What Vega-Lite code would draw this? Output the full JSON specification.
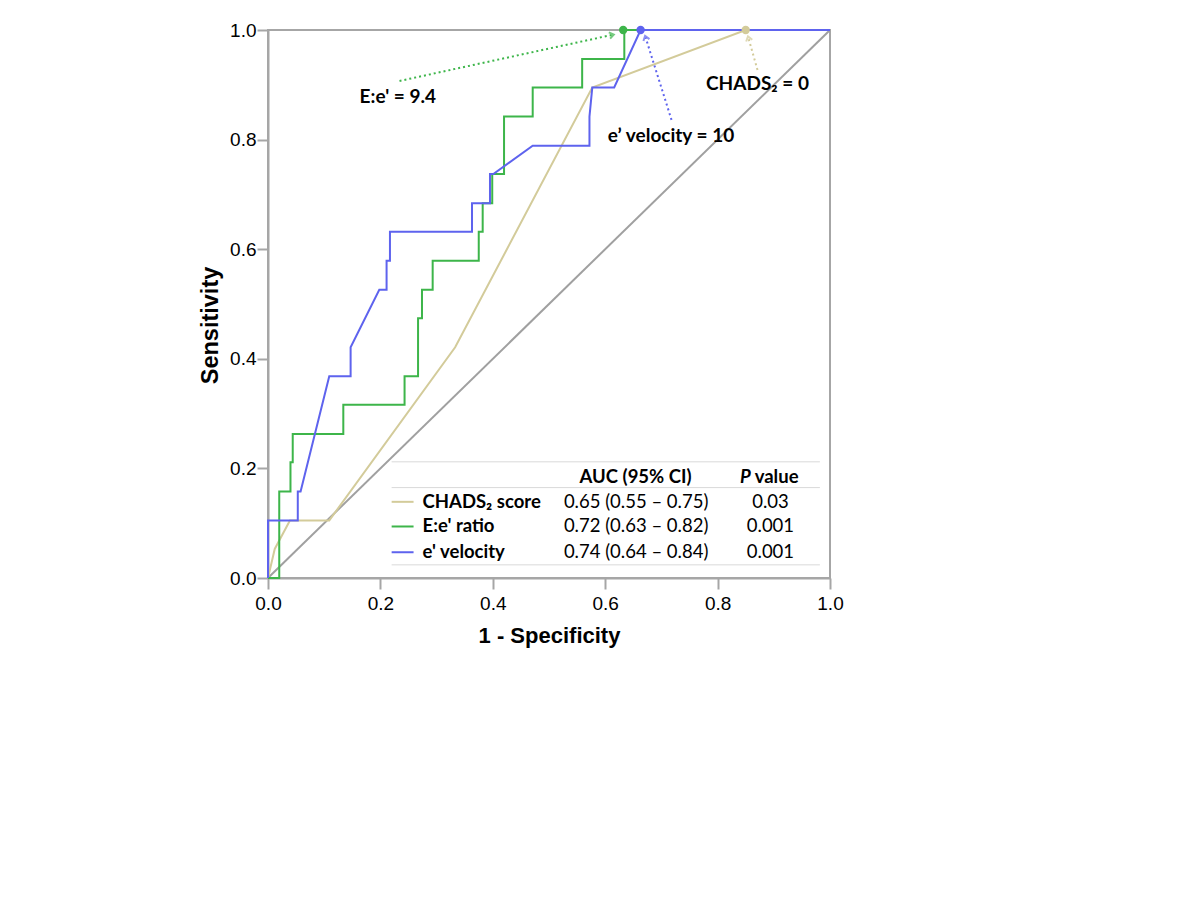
{
  "$schema": "https://vega.github.io/schema/vega-lite/v6.json",
  "width": 562,
  "height": 548,
  "autosize": "none",
  "padding": {"left": 268, "top": 30, "right": 370, "bottom": 322},
  "background": "white",
  "config": {
    "view": {"stroke": "#a6a6a6", "strokeWidth": 2},
    "axis": {
      "grid": false,
      "domainColor": "#a6a6a6",
      "domainWidth": 2,
      "tickColor": "#a6a6a6",
      "tickWidth": 2,
      "tickSize": 11,
      "labelFlush": false,
      "labelFont": "Liberation Sans",
      "labelFontSize": 19,
      "labelColor": "#000000",
      "titleFont": "Liberation Sans",
      "titleFontWeight": "bold",
      "titleColor": "#000000"
    }
  },
  "datasets": {
    "curves": [
      {"series": "CHADS", "order": 1, "fpr": 0, "tpr": 0},
      {"series": "CHADS", "order": 2, "fpr": 0.012, "tpr": 0.053},
      {"series": "CHADS", "order": 3, "fpr": 0.039, "tpr": 0.105},
      {"series": "CHADS", "order": 4, "fpr": 0.109, "tpr": 0.105},
      {"series": "CHADS", "order": 5, "fpr": 0.333, "tpr": 0.421},
      {"series": "CHADS", "order": 6, "fpr": 0.577, "tpr": 0.895},
      {"series": "CHADS", "order": 7, "fpr": 0.85, "tpr": 1},
      {"series": "CHADS", "order": 8, "fpr": 1, "tpr": 1},
      {"series": "Ee", "order": 1, "fpr": 0, "tpr": 0},
      {"series": "Ee", "order": 2, "fpr": 0.02, "tpr": 0},
      {"series": "Ee", "order": 3, "fpr": 0.02, "tpr": 0.158},
      {"series": "Ee", "order": 4, "fpr": 0.04, "tpr": 0.158},
      {"series": "Ee", "order": 5, "fpr": 0.04, "tpr": 0.211},
      {"series": "Ee", "order": 6, "fpr": 0.044, "tpr": 0.211},
      {"series": "Ee", "order": 7, "fpr": 0.044, "tpr": 0.263},
      {"series": "Ee", "order": 8, "fpr": 0.134, "tpr": 0.263},
      {"series": "Ee", "order": 9, "fpr": 0.134, "tpr": 0.316},
      {"series": "Ee", "order": 10, "fpr": 0.243, "tpr": 0.316},
      {"series": "Ee", "order": 11, "fpr": 0.243, "tpr": 0.368},
      {"series": "Ee", "order": 12, "fpr": 0.267, "tpr": 0.368},
      {"series": "Ee", "order": 13, "fpr": 0.267, "tpr": 0.474},
      {"series": "Ee", "order": 14, "fpr": 0.274, "tpr": 0.474},
      {"series": "Ee", "order": 15, "fpr": 0.274, "tpr": 0.526},
      {"series": "Ee", "order": 16, "fpr": 0.293, "tpr": 0.526},
      {"series": "Ee", "order": 17, "fpr": 0.293, "tpr": 0.579},
      {"series": "Ee", "order": 18, "fpr": 0.375, "tpr": 0.579},
      {"series": "Ee", "order": 19, "fpr": 0.375, "tpr": 0.632},
      {"series": "Ee", "order": 20, "fpr": 0.382, "tpr": 0.632},
      {"series": "Ee", "order": 21, "fpr": 0.382, "tpr": 0.684},
      {"series": "Ee", "order": 22, "fpr": 0.399, "tpr": 0.684},
      {"series": "Ee", "order": 23, "fpr": 0.399, "tpr": 0.737},
      {"series": "Ee", "order": 24, "fpr": 0.42, "tpr": 0.737},
      {"series": "Ee", "order": 25, "fpr": 0.42, "tpr": 0.842},
      {"series": "Ee", "order": 26, "fpr": 0.471, "tpr": 0.842},
      {"series": "Ee", "order": 27, "fpr": 0.471, "tpr": 0.895},
      {"series": "Ee", "order": 28, "fpr": 0.559, "tpr": 0.895},
      {"series": "Ee", "order": 29, "fpr": 0.559, "tpr": 0.947},
      {"series": "Ee", "order": 30, "fpr": 0.634, "tpr": 0.947},
      {"series": "Ee", "order": 31, "fpr": 0.634, "tpr": 1},
      {"series": "Ee", "order": 32, "fpr": 1, "tpr": 1},
      {"series": "ev", "order": 1, "fpr": 0, "tpr": 0},
      {"series": "ev", "order": 2, "fpr": 0, "tpr": 0.105},
      {"series": "ev", "order": 3, "fpr": 0.053, "tpr": 0.105},
      {"series": "ev", "order": 4, "fpr": 0.053, "tpr": 0.158},
      {"series": "ev", "order": 5, "fpr": 0.058, "tpr": 0.158},
      {"series": "ev", "order": 6, "fpr": 0.109, "tpr": 0.368},
      {"series": "ev", "order": 7, "fpr": 0.147, "tpr": 0.368},
      {"series": "ev", "order": 8, "fpr": 0.147, "tpr": 0.421},
      {"series": "ev", "order": 9, "fpr": 0.198, "tpr": 0.526},
      {"series": "ev", "order": 10, "fpr": 0.211, "tpr": 0.526},
      {"series": "ev", "order": 11, "fpr": 0.211, "tpr": 0.579},
      {"series": "ev", "order": 12, "fpr": 0.217, "tpr": 0.579},
      {"series": "ev", "order": 13, "fpr": 0.217, "tpr": 0.632},
      {"series": "ev", "order": 14, "fpr": 0.363, "tpr": 0.632},
      {"series": "ev", "order": 15, "fpr": 0.363, "tpr": 0.684},
      {"series": "ev", "order": 16, "fpr": 0.395, "tpr": 0.684},
      {"series": "ev", "order": 17, "fpr": 0.395, "tpr": 0.737},
      {"series": "ev", "order": 18, "fpr": 0.401, "tpr": 0.737},
      {"series": "ev", "order": 19, "fpr": 0.471, "tpr": 0.789},
      {"series": "ev", "order": 20, "fpr": 0.572, "tpr": 0.789},
      {"series": "ev", "order": 21, "fpr": 0.572, "tpr": 0.842},
      {"series": "ev", "order": 22, "fpr": 0.577, "tpr": 0.895},
      {"series": "ev", "order": 23, "fpr": 0.616, "tpr": 0.895},
      {"series": "ev", "order": 24, "fpr": 0.663, "tpr": 1},
      {"series": "ev", "order": 25, "fpr": 1, "tpr": 1}
    ],
    "cutoffs": [
      {"series": "CHADS", "fpr": 0.85, "tpr": 1, "label": "CHADS₂ = 0", "lx": 0.871, "ly": 0.901, "ax": 0.871, "ay": 0.927, "tx": 0.855, "ty": 0.985},
      {"series": "Ee", "fpr": 0.632, "tpr": 1, "label": "E:e' = 9.4", "lx": 0.231, "ly": 0.877, "ax": 0.234, "ay": 0.907, "tx": 0.612, "ty": 0.991},
      {"series": "ev", "fpr": 0.663, "tpr": 1, "label": "e’ velocity = 10", "lx": 0.717, "ly": 0.807, "ax": 0.718, "ay": 0.836, "tx": 0.672, "ty": 0.986}
    ],
    "table": [
      {"series": "CHADS", "name": "CHADS₂ score", "auc": "0.65 (0.55 – 0.75)", "p": "0.03", "row": 0.139},
      {"series": "Ee", "name": "E:e' ratio", "auc": "0.72 (0.63 – 0.82)", "p": "0.001", "row": 0.094},
      {"series": "ev", "name": "e' velocity", "auc": "0.74 (0.64 – 0.84)", "p": "0.001", "row": 0.047}
    ],
    "tablelines": [
      {"y": 0.212, "x1": 0.22, "x2": 0.982},
      {"y": 0.165, "x1": 0.22, "x2": 0.982},
      {"y": 0.024, "x1": 0.22, "x2": 0.982}
    ],
    "header": [
      {"t": "AUC (95% CI)", "x": 0.654, "y": 0.185}
    ],
    "diag": [
      {"fpr": 0, "tpr": 0},
      {"fpr": 1, "tpr": 1}
    ]
  },
  "layer": [
    {
      "data": {"name": "diag"},
      "mark": {"type": "line", "color": "#a0a0a0", "strokeWidth": 2, "clip": true},
      "encoding": {
        "x": {"field": "fpr", "type": "quantitative", "scale": {"domain": [0, 1], "nice": false}, "axis": {"title": "1 - Specificity", "titleFontSize": 22, "values": [0, 0.2, 0.4, 0.6, 0.8, 1], "format": ".1f", "labelPadding": 5, "titlePadding": 12}},
        "y": {"field": "tpr", "type": "quantitative", "scale": {"domain": [0, 1], "nice": false}, "axis": {"title": "Sensitivity", "titleFontSize": 23.5, "titleY": 295, "values": [0, 0.2, 0.4, 0.6, 0.8, 1], "format": ".1f", "labelPadding": 1, "titlePadding": 7}}
      }
    },
    {
      "data": {"name": "tablelines"},
      "mark": {"type": "rule", "color": "#d9d9d9", "strokeWidth": 1},
      "encoding": {
        "x": {"field": "x1", "type": "quantitative"},
        "x2": {"field": "x2"},
        "y": {"field": "y", "type": "quantitative"}
      }
    },
    {
      "data": {"name": "curves"},
      "mark": {"type": "line", "strokeWidth": 2, "clip": false},
      "encoding": {
        "x": {"field": "fpr", "type": "quantitative"},
        "y": {"field": "tpr", "type": "quantitative"},
        "order": {"field": "order", "type": "quantitative"},
        "color": {"field": "series", "type": "nominal", "scale": {"domain": ["CHADS", "Ee", "ev"], "range": ["#d3cb9a", "#3db54a", "#5e63ee"]}, "legend": null},
        "strokeWidth": {"field": "series", "type": "nominal", "scale": {"domain": ["CHADS", "Ee", "ev"], "range": [1.8, 2.2, 2]}, "legend": null}
      }
    },
    {
      "data": {"name": "cutoffs"},
      "mark": {"type": "rule", "strokeWidth": 2, "strokeDash": [2, 3]},
      "encoding": {
        "x": {"field": "ax", "type": "quantitative"},
        "y": {"field": "ay", "type": "quantitative"},
        "x2": {"field": "tx"},
        "y2": {"field": "ty"},
        "color": {"field": "series", "type": "nominal", "legend": null}
      }
    },
    {
      "data": {"name": "cutoffs"},
      "transform": [{"filter": "datum.series === 'Ee'"}],
      "mark": {"type": "point", "shape": "M-1,0.8L0,-0.6L1,0.8", "filled": false, "strokeWidth": 2, "size": 40, "angle": 78},
      "encoding": {
        "x": {"field": "tx", "type": "quantitative"},
        "y": {"field": "ty", "type": "quantitative"},
        "color": {"field": "series", "type": "nominal", "legend": null}
      }
    },
    {
      "data": {"name": "cutoffs"},
      "transform": [{"filter": "datum.series === 'ev'"}],
      "mark": {"type": "point", "shape": "M-1,0.8L0,-0.6L1,0.8", "filled": false, "strokeWidth": 2, "size": 40, "angle": 342},
      "encoding": {
        "x": {"field": "tx", "type": "quantitative"},
        "y": {"field": "ty", "type": "quantitative"},
        "color": {"field": "series", "type": "nominal", "legend": null}
      }
    },
    {
      "data": {"name": "cutoffs"},
      "transform": [{"filter": "datum.series === 'CHADS'"}],
      "mark": {"type": "point", "shape": "M-1,0.8L0,-0.6L1,0.8", "filled": false, "strokeWidth": 2, "size": 40, "angle": 344},
      "encoding": {
        "x": {"field": "tx", "type": "quantitative"},
        "y": {"field": "ty", "type": "quantitative"},
        "color": {"field": "series", "type": "nominal", "legend": null}
      }
    },
    {
      "data": {"name": "cutoffs"},
      "mark": {"type": "point", "filled": true, "opacity": 1, "size": 70, "clip": false},
      "encoding": {
        "x": {"field": "fpr", "type": "quantitative"},
        "y": {"field": "tpr", "type": "quantitative"},
        "color": {"field": "series", "type": "nominal", "legend": null}
      }
    },
    {
      "data": {"name": "cutoffs"},
      "mark": {"type": "text", "font": "Lato", "fontWeight": "bold", "fontSize": 19, "align": "center", "baseline": "middle", "color": "#000000"},
      "encoding": {
        "x": {"field": "lx", "type": "quantitative"},
        "y": {"field": "ly", "type": "quantitative"},
        "text": {"field": "label"}
      }
    },
    {
      "data": {"name": "table"},
      "mark": {"type": "rule", "strokeWidth": 2},
      "encoding": {
        "x": {"datum": 0.22, "type": "quantitative"},
        "x2": {"datum": 0.259},
        "y": {"field": "row", "type": "quantitative"},
        "color": {"field": "series", "type": "nominal", "legend": null}
      }
    },
    {
      "data": {"name": "table"},
      "mark": {"type": "text", "font": "Lato", "fontWeight": "bold", "fontSize": 18.5, "align": "left", "baseline": "middle", "color": "#000000"},
      "encoding": {
        "x": {"datum": 0.275, "type": "quantitative"},
        "y": {"field": "row", "type": "quantitative"},
        "text": {"field": "name"}
      }
    },
    {
      "data": {"name": "table"},
      "mark": {"type": "text", "font": "Lato", "fontSize": 18.5, "align": "center", "baseline": "middle", "color": "#000000"},
      "encoding": {
        "x": {"datum": 0.655, "type": "quantitative"},
        "y": {"field": "row", "type": "quantitative"},
        "text": {"field": "auc"}
      }
    },
    {
      "data": {"name": "table"},
      "mark": {"type": "text", "font": "Lato", "fontSize": 18.5, "align": "center", "baseline": "middle", "color": "#000000"},
      "encoding": {
        "x": {"datum": 0.894, "type": "quantitative"},
        "y": {"field": "row", "type": "quantitative"},
        "text": {"field": "p"}
      }
    },
    {
      "data": {"name": "header"},
      "mark": {"type": "text", "font": "Lato", "fontWeight": "bold", "fontSize": 18.5, "align": "center", "baseline": "middle", "color": "#000000"},
      "encoding": {
        "x": {"field": "x", "type": "quantitative"},
        "y": {"field": "y", "type": "quantitative"},
        "text": {"field": "t"}
      }
    },
    {
      "data": {"values": [{"t": "P", "x": 0.84, "y": 0.185}]},
      "mark": {"type": "text", "font": "Lato", "fontWeight": "bold", "fontStyle": "italic", "fontSize": 18.5, "align": "left", "baseline": "middle", "color": "#000000"},
      "encoding": {
        "x": {"field": "x", "type": "quantitative"},
        "y": {"field": "y", "type": "quantitative"},
        "text": {"field": "t"}
      }
    },
    {
      "data": {"values": [{"t": "value", "x": 0.866, "y": 0.185}]},
      "mark": {"type": "text", "font": "Lato", "fontWeight": "bold", "fontSize": 18.5, "align": "left", "baseline": "middle", "color": "#000000"},
      "encoding": {
        "x": {"field": "x", "type": "quantitative"},
        "y": {"field": "y", "type": "quantitative"},
        "text": {"field": "t"}
      }
    }
  ]
}
